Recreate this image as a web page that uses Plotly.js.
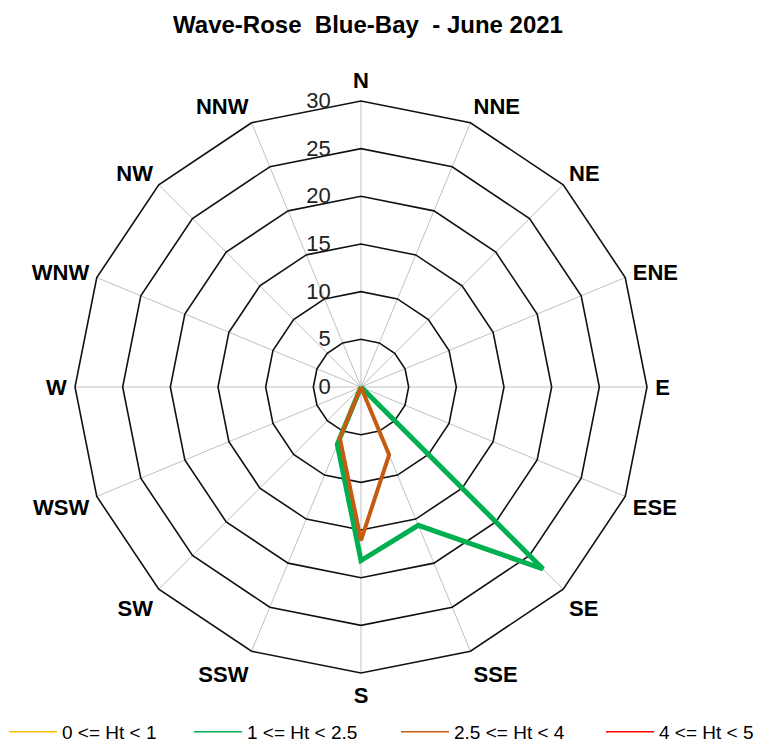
<!DOCTYPE html>
<html>
<head>
<meta charset="utf-8">
<script src="https://cdn.plot.ly/plotly-3.0.1.min.js"></script>
<style>html,body{margin:0;padding:0;background:#fff;}#chart{width:766px;height:751px;}</style>
</head>
<body>
<div id="chart"></div>
<script>
const directions = ["N","NNE","NE","ENE","E","ESE","SE","SSE","S","SSW","SW","WSW","W","WNW","NW","NNW"];
const seriesNames = ["0 <= Ht < 1","1 <= Ht < 2.5","2.5 <= Ht < 4","4 <= Ht < 5"];
const ht0to1   = [0,0,0,0,0,0,0,0,0,0,0,0,0,0,0,0];
const ht1to2_5 = [0,0,0,0,0,0,27,15.7,18.2,6.5,0,0,0,0,0,0];
const ht2_5to4 = [0,0,0,0,0,0,0,7.7,16.1,5.8,0,0,0,0,0,0];
const ht4to5   = [0,0,0,0,0,0,0,0,0,0,0,0,0,0,0,0];
const radialTicks = [0,5,10,15,20,25,30];

const colors = ["#ffc000","#00b050","#c55a11","#ff0000"];
const widths = [2,5,4,3];
const allSeries = [ht0to1, ht1to2_5, ht2_5to4, ht4to5];
const legendIds = ['legend','legend2','legend3','legend4'];
const legendX = [4,189,396,601];

function closed(a){ return a.concat([a[0]]); }
const theta = closed(directions);

const traces = [];
allSeries.forEach((vals,i)=>traces.push({
  type:'scatterpolar', mode:'lines', name:seriesNames[i], legend:legendIds[i],
  r: closed(vals), theta: theta,
  line:{color:colors[i], width:1.5},
  legendgroup:'g'+i, hoverinfo:'skip'
}));
allSeries.forEach((vals,i)=>traces.push({
  type:'scatterpolar', mode:'lines', showlegend:false, legend:legendIds[i],
  r: closed(vals), theta: theta,
  line:{color:colors[i], width:widths[i]},
  legendgroup:'g'+i, hoverinfo:'skip'
}));
traces.push({
  type:'scatterpolar', mode:'markers', showlegend:false, legend:'legend4', legendgroup:'g3',
  r: ht4to5, theta: directions,
  marker:{color:colors[3], size:7}, hoverinfo:'skip'
});

const layout = {
  width:766, height:751,
  margin:{l:0,r:0,t:0,b:0},
  paper_bgcolor:'#fff',
  font:{family:'"Liberation Sans", Arial, sans-serif', color:'#000'},
  title:{text:'Wave-Rose  Blue-Bay  - June 2021', x:368/766, xanchor:'center', y:0.967, yanchor:'middle',
         font:{size:24, weight:'bold', color:'#000'}},
  showlegend:true,
  polar:{
    domain:{x:[75/766, 647/766], y:[1-673/751, 1-101/751]},
    bgcolor:'#fff',
    gridshape:'linear',
    radialaxis:{range:[0,30], tickvals:radialTicks, angle:90, side:'counterclockwise', tickangle:90,
      showline:false, gridcolor:'#111', gridwidth:1.6,
      ticks:'outside', ticklen:22, tickcolor:'rgba(0,0,0,0)',
      tickfont:{size:22, color:'#222'}},
    angularaxis:{type:'category', categoryarray:directions, direction:'clockwise', rotation:90,
      gridcolor:'#c0c0c0', gridwidth:1, showline:true, linecolor:'#111', linewidth:1.6,
      ticks:'outside', ticklen:3, tickcolor:'rgba(0,0,0,0)',
      tickfont:{size:22, weight:'bold', color:'#000'}}
  }
};
legendIds.forEach((id,i)=>{
  layout[id] = {orientation:'h', x:legendX[i]/766, xanchor:'left', y:0, yanchor:'bottom',
    font:{size:19, color:'#000'}, itemwidth:48, bgcolor:'rgba(0,0,0,0)'};
});
Plotly.newPlot('chart', traces, layout, {staticPlot:true});
</script>
</body>
</html>
